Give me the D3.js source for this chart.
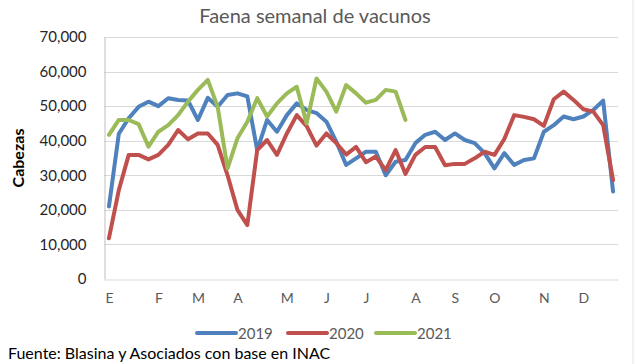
<!DOCTYPE html>
<html>
<head>
<meta charset="utf-8">
<script src="https://cdn.jsdelivr.net/npm/d3@7/dist/d3.min.js"></script>
<style>
  html, body { margin: 0; padding: 0; background: #fff; }
  svg { display: block; }
  text { font-family: "Lato", "Open Sans", sans-serif; }
</style>
</head>
<body>
<svg id="chart" width="640" height="364"></svg>
<script>
// ---- Data ----
const weeks = d3.range(1, 53);
const monthLabels = ["E", "F", "M", "A", "M", "J", "J", "A", "S", "O", "N", "D"];
const monthWeeks = [1, 6, 10, 14, 19, 23, 27, 32, 36, 40, 45, 49];
const yTicks = [0, 10000, 20000, 30000, 40000, 50000, 60000, 70000];
const seriesNames = ["2019", "2020", "2021"];
const seriesColors = ["#4F81BD", "#C0504D", "#9BBB59"];

const values2019 = [21000, 42000, 46500, 49800, 51300, 50000, 52300, 51800, 51600, 46000,
  52400, 49800, 53200, 53700, 52800, 37300, 46000, 42600, 47400, 50800,
  48900, 48000, 45500, 39700, 33000, 34900, 36800, 36800, 30000, 33900,
  34400, 39300, 41700, 42600, 40200, 42100, 40200, 39300, 36400, 32000,
  36400, 33000, 34400, 34900, 42600, 44500, 47000, 46200, 47000, 48900,
  51600, 25300];
const values2020 = [11800, 25700, 35900, 35900, 34600, 35900, 38800, 43100, 40400, 42100,
  42100, 38800, 30000, 20000, 15600, 37300, 40200, 35900, 42100, 47400,
  44200, 38600, 42100, 39300, 36000, 38200, 33800, 35400, 31500, 37300,
  30400, 35900, 38200, 38200, 32900, 33300, 33300, 34900, 36800, 35900,
  40500, 47400, 46900, 46200, 44300, 52000, 54200, 51800, 49100, 48400,
  44500, 28600];
const values2021 = [41700, 46000, 46000, 44800, 38300, 42600, 44500, 47400, 51300, 54700,
  57600, 49800, 32000, 40700, 45500, 52300, 47000, 50800, 53700, 55600,
  45000, 58000, 54200, 48400, 56100, 53700, 51000, 51800, 54700, 54200,
  46000];
const seriesValues = [values2019, values2020, values2021];

// ---- Layout ----
const svg = d3.select("#chart");
const plot = { left: 104, right: 618, top: 37, bottom: 279 };

const x = d3.scalePoint().domain(weeks).range([plot.left, plot.right]).padding(0.5);
const y = d3.scaleLinear().domain([0, 70000]).range([plot.bottom, plot.top]);

// right frame line
svg.append("line")
  .attr("x1", 633).attr("x2", 633).attr("y1", 0).attr("y2", 364)
  .attr("stroke", "#e3e3e3").attr("stroke-width", 1);

// Title
svg.append("text")
  .attr("x", 315).attr("y", 23)
  .attr("text-anchor", "middle")
  .attr("font-size", 20)
  .attr("fill", "#595959")
  .text("Faena semanal de vacunos");

// Gridlines
svg.append("g")
  .selectAll("line")
  .data(yTicks.filter(d => d > 0))
  .join("line")
  .attr("x1", plot.left).attr("x2", plot.right)
  .attr("y1", d => Math.round(y(d)) + 0.5).attr("y2", d => Math.round(y(d)) + 0.5)
  .attr("stroke", "#d9d9d9").attr("stroke-width", 1);

// Y axis
const yAxis = svg.append("g")
  .attr("transform", `translate(${plot.left + 0.5},0)`)
  .call(d3.axisLeft(y).tickValues(yTicks).tickSize(0).tickPadding(18)
    .tickFormat(d3.format(",")));
yAxis.select(".domain").attr("stroke", "#bfbfbf");
yAxis.selectAll("text")
  .attr("font-size", 15)
  .attr("fill", "#262626")
  .attr("font-family", "Lato, sans-serif");

// X axis
const xAxis = svg.append("g")
  .attr("transform", `translate(0,${plot.bottom + 0.5})`)
  .call(d3.axisBottom(x).tickValues(monthWeeks).tickSize(0).tickPadding(14)
    .tickFormat(d => monthLabels[monthWeeks.indexOf(d)]));
xAxis.select(".domain").attr("stroke", "#d9d9d9");
xAxis.selectAll("text")
  .attr("font-size", 14)
  .attr("fill", "#595959")
  .attr("font-family", "Lato, sans-serif");

// Y axis title
svg.append("text")
  .attr("transform", "translate(24,158) rotate(-90)")
  .attr("text-anchor", "middle")
  .attr("font-size", 16)
  .attr("font-weight", "bold")
  .attr("fill", "#000")
  .text("Cabezas");

// Lines
const line = d3.line()
  .x((d, i) => x(weeks[i]))
  .y(d => y(d));

svg.append("g")
  .selectAll("path")
  .data(seriesValues)
  .join("path")
  .attr("d", d => line(d))
  .attr("fill", "none")
  .attr("stroke", (d, i) => seriesColors[i])
  .attr("stroke-width", 4)
  .attr("stroke-linejoin", "round")
  .attr("stroke-linecap", "round");

// Legend
const legendX = [197, 288, 376];
const legend = svg.append("g");
seriesNames.forEach((name, i) => {
  legend.append("line")
    .attr("x1", legendX[i]).attr("x2", legendX[i] + 39)
    .attr("y1", 333).attr("y2", 333)
    .attr("stroke", seriesColors[i]).attr("stroke-width", 4)
    .attr("stroke-linecap", "round");
  legend.append("text")
    .attr("x", legendX[i] + 41).attr("y", 338.5)
    .attr("font-size", 15)
    .attr("fill", "#595959")
    .text(name);
});

// Source footer
svg.append("text")
  .attr("x", 8).attr("y", 359)
  .attr("font-size", 16)
  .attr("fill", "#000")
  .text("Fuente: Blasina y Asociados con base en INAC");
</script>
</body>
</html>
